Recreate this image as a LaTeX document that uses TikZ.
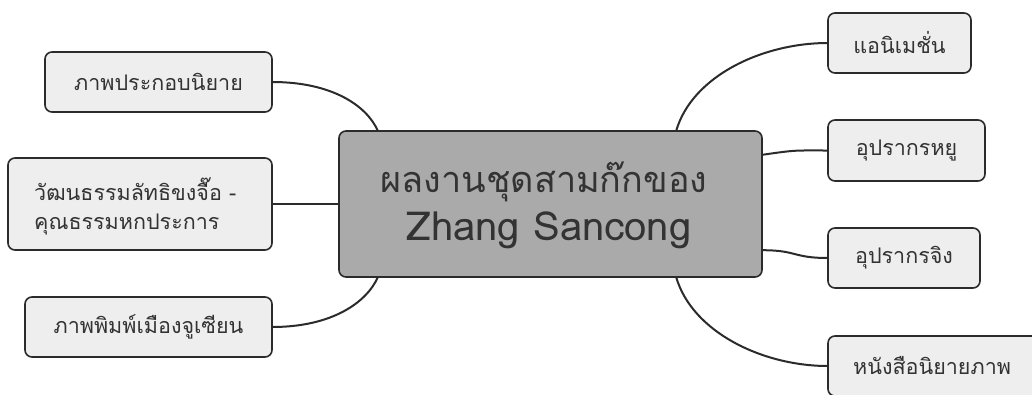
\documentclass[tikz,border=0pt]{standalone}
\usepackage{fontspec}
\setmainfont[Script=Thai]{Loma}
\usetikzlibrary{calc}
\definecolor{edge}{HTML}{2B2B2B}
\definecolor{leaf}{HTML}{EEEEEE}
\definecolor{hub}{HTML}{AAAAAA}
\definecolor{ink}{HTML}{333333}
\tikzset{
  leafbox/.style={draw=edge, line width=1.6pt, fill=leaf, rounded corners=7pt, inner sep=0pt},
  hubbox/.style={draw=edge, line width=1.6pt, fill=hub, rounded corners=7pt, inner sep=0pt},
  leaftext/.style={text=ink, font=\fontsize{21.5}{29}\selectfont, inner sep=0pt},
  link/.style={draw=edge, line width=2pt}
}
\begin{document}
\begin{tikzpicture}[x=1pt,y=-1pt]
\useasboundingbox (0,0) rectangle (1032,394);
% connectors
\coordinate (c) at (550.5,204);
\node[minimum width=423pt, minimum height=146pt, inner sep=0pt] (c) at (550.5,204) {};
\node[minimum width=227pt, minimum height=60pt, inner sep=0pt] (l1) at (158.5,82) {};
\node[minimum width=264pt, minimum height=92pt, inner sep=0pt] (l2) at (140,204) {};
\node[minimum width=247pt, minimum height=60pt, inner sep=0pt] (l3) at (148.5,327) {};
\node[minimum width=143pt, minimum height=60pt, inner sep=0pt] (r1) at (899.5,43) {};
\node[minimum width=157pt, minimum height=61pt, inner sep=0pt] (r2) at (906.5,150.5) {};
\node[minimum width=152pt, minimum height=60pt, inner sep=0pt] (r3) at (904,258) {};
\node[minimum width=240pt, minimum height=60pt, inner sep=0pt] (r4) at (948,366) {};
\draw[link] (l1.east) .. controls ($(l1.east)+(60,0)$) and ($(c.north west)+(28,-25)$) .. ($(c.north west)+(39,0)$);
\draw[link] (l2.east) -- (c.west |- l2.east);
\draw[link] (l3.east) .. controls ($(l3.east)+(60,0)$) and ($(c.south west)+(28,25)$) .. ($(c.south west)+(39,0)$);
\draw[link] ($(c.north east)+(-86,0)$) .. controls ($(c.north east)+(-70,-55)$) and ($(r1.west)+(-65,0)$) .. (r1.west);
\draw[link] ($(c.north east)+(0,24)$) .. controls ($(c.north east)+(35,19)$) and ($(r2.west)+(-35,0)$) .. (r2.west);
\draw[link] ($(c.south east)+(0,-27)$) .. controls ($(c.south east)+(35,-27)$) and ($(r3.west)+(-35,0)$) .. (r3.west);
\draw[link] ($(c.south east)+(-86,0)$) .. controls ($(c.south east)+(-70,55)$) and ($(r4.west)+(-65,0)$) .. (r4.west);
% boxes
\node[hubbox, minimum width=423pt, minimum height=146pt] (hub) at (c.center) {};
\node[text=ink, font=\fontsize{36}{40}\selectfont, inner sep=0pt] (ct1) at (544,182) {ผลงานชุดสามก๊กของ};
\node[text=ink, font=\fontsize{40}{44}\selectfont, inner sep=0pt] (ct2) at (549,230) {Zhang Sancong};
\node[leafbox, minimum width=227pt, minimum height=60pt] (b1) at (l1.center) {};
\node[leaftext] (l1t) at (l1.center) {ภาพประกอบนิยาย};
\node[leafbox, minimum width=264pt, minimum height=92pt] (b2) at (l2.center) {};
\node[leaftext, align=left, anchor=west, font=\fontsize{21.5}{29}\selectfont] (l2t) at (34,206) {วัฒนธรรมลัทธิขงจื๊อ -\\คุณธรรมหกประการ};
\node[leafbox, minimum width=247pt, minimum height=60pt] (b3) at (l3.center) {};
\node[leaftext] (l3t) at (l3.center) {ภาพพิมพ์เมืองจูเซียน};
\node[leafbox, minimum width=143pt, minimum height=60pt] (b4) at (r1.center) {};
\node[leaftext] (r1t) at (r1.center) {แอนิเมชั่น};
\node[leafbox, minimum width=157pt, minimum height=61pt] (b5) at (r2.center) {};
\node[leaftext] (r2t) at (r2.center) {อุปรากรหยู};
\node[leafbox, minimum width=152pt, minimum height=60pt] (b6) at (r3.center) {};
\node[leaftext] (r3t) at (r3.center) {อุปรากรจิง};
\node[leafbox, minimum width=240pt, minimum height=60pt] (b7) at (r4.center) {};
\node[leaftext, anchor=west] (r4t) at (853,366) {หนังสือนิยายภาพ};
\end{tikzpicture}
\end{document}
